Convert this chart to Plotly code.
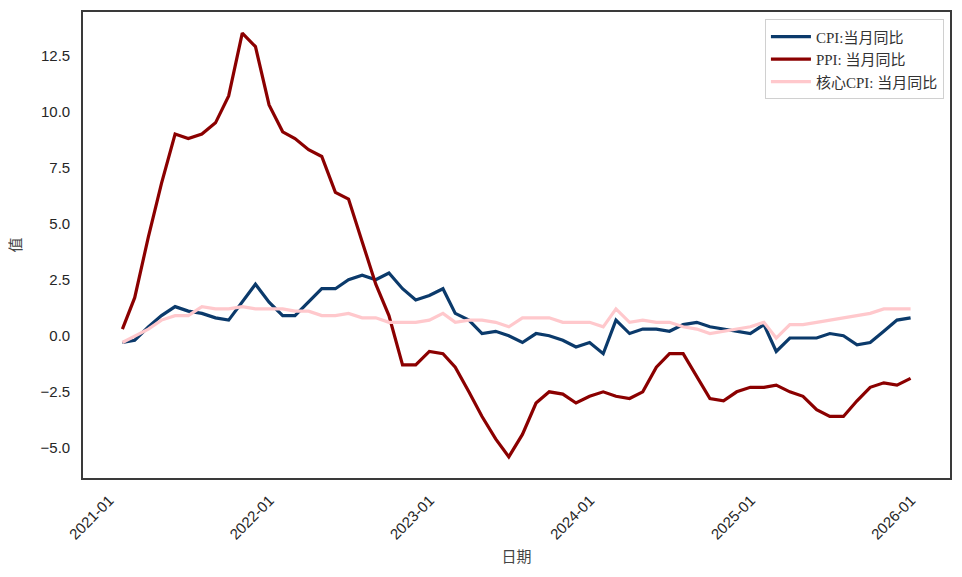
import pandas as pd
import plotly.graph_objects as go

dates = pd.date_range("2021-01-31", periods=60, freq="ME")

cpi = [-0.3, -0.2, 0.4, 0.9, 1.3, 1.1, 1.0, 0.8, 0.7, 1.5, 2.3, 1.5,
       0.9, 0.9, 1.5, 2.1, 2.1, 2.5, 2.7, 2.5, 2.8, 2.1, 1.6, 1.8,
       2.1, 1.0, 0.7, 0.1, 0.2, 0.0, -0.3, 0.1, 0.0, -0.2, -0.5, -0.3,
       -0.8, 0.7, 0.1, 0.3, 0.3, 0.2, 0.5, 0.6, 0.4, 0.3, 0.2, 0.1,
       0.5, -0.7, -0.1, -0.1, -0.1, 0.1, 0.0, -0.4, -0.3, 0.2, 0.7, 0.8]

ppi = [0.3, 1.7, 4.4, 6.8, 9.0, 8.8, 9.0, 9.5, 10.7, 13.5, 12.9, 10.3,
       9.1, 8.8, 8.3, 8.0, 6.4, 6.1, 4.2, 2.3, 0.9, -1.3, -1.3, -0.7,
       -0.8, -1.4, -2.5, -3.6, -4.6, -5.4, -4.4, -3.0, -2.5, -2.6, -3.0, -2.7,
       -2.5, -2.7, -2.8, -2.5, -1.4, -0.8, -0.8, -1.8, -2.8, -2.9, -2.5, -2.3,
       -2.3, -2.2, -2.5, -2.7, -3.3, -3.6, -3.6, -2.9, -2.3, -2.1, -2.2, -1.9]

core_cpi = [-0.3, 0.0, 0.3, 0.7, 0.9, 0.9, 1.3, 1.2, 1.2, 1.3, 1.2, 1.2,
            1.2, 1.1, 1.1, 0.9, 0.9, 1.0, 0.8, 0.8, 0.6, 0.6, 0.6, 0.7,
            1.0, 0.6, 0.7, 0.7, 0.6, 0.4, 0.8, 0.8, 0.8, 0.6, 0.6, 0.6,
            0.4, 1.2, 0.6, 0.7, 0.6, 0.6, 0.4, 0.3, 0.1, 0.2, 0.3, 0.4,
            0.6, -0.1, 0.5, 0.5, 0.6, 0.7, 0.8, 0.9, 1.0, 1.2, 1.2, 1.2]

series_names = ["CPI:当月同比", "PPI: 当月同比", "核心CPI: 当月同比"]
series_colors = ["#0b3a6b", "#8b0000", "#ffc8cc"]

tick_dates = pd.date_range("2021-01-01", periods=6, freq="YS")
tick_text = [d.strftime("%Y-%m") for d in tick_dates]
y_ticks = [-5.0, -2.5, 0.0, 2.5, 5.0, 7.5, 10.0, 12.5]

fig = go.Figure()
for name, vals, col in zip(series_names, [cpi, ppi, core_cpi], series_colors):
    fig.add_trace(go.Scatter(x=dates, y=vals, mode="lines", name=name,
                             line=dict(color=col, width=3.2)))

span = dates[-1] - dates[0]
xr = [dates[0] - span * 0.05, dates[-1] + span * 0.05]
allv = cpi + ppi + core_cpi
vr = max(allv) - min(allv)
yr = [min(allv) - 0.05 * vr, max(allv) + 0.05 * vr]

axis_common = dict(showgrid=False, zeroline=False, showline=True, mirror=True,
                   linecolor="#3a3a3a", linewidth=1.6, ticks="",
                   tickfont=dict(family="Liberation Sans, Arial", size=15, color="#262626"))

title_font = dict(family="Liberation Serif, Noto Sans CJK SC", size=15, color="#444")

fig.update_layout(
    width=954, height=569,
    margin=dict(l=75, r=12, t=2, b=99),
    paper_bgcolor="white", plot_bgcolor="white",
    xaxis=dict(range=xr, tickvals=tick_dates, ticktext=tick_text, tickangle=-45,
               ticklabelstandoff=6,
               title=dict(text="日期", font=title_font, standoff=10),
               **axis_common),
    yaxis=dict(range=yr, tickvals=y_ticks, ticktext=[f"{v:.1f}".replace("-", "−") for v in y_ticks],
               ticklabelstandoff=8,
               title=dict(text="值", font=title_font, standoff=20),
               **axis_common),
    legend=dict(x=0.993, y=0.984, xanchor="right", yanchor="top",
                bgcolor="rgba(255,255,255,0.8)", bordercolor="#d0d0d0", borderwidth=1,
                font=dict(family="Liberation Serif, Noto Sans CJK SC", size=15, color="#333"),
                tracegroupgap=0, itemwidth=40),
    showlegend=True,
)

fig.write_html("out.html")
